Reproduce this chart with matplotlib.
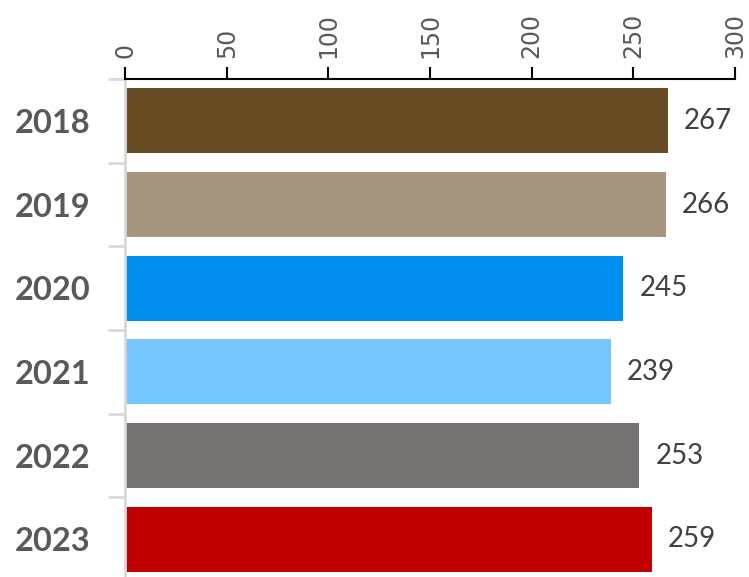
import numpy as np
import matplotlib.pyplot as plt

# data
years = ['2018', '2019', '2020', '2021', '2022', '2023']
values = [267, 266, 245, 239, 253, 259]
colors = ['#674c24', '#a5947e', '#0091f0', '#75c6ff', '#767171', '#c00000']
xticks = [0, 50, 100, 150, 200, 250, 300]

fig = plt.figure(figsize=(7.49, 5.77), dpi=100)
ax = fig.add_axes([125/749, -4/577, 610/749, 502/577])

y = np.arange(len(years))
ax.barh(y, values, height=0.78, color=colors)
ax.set_xlim(0, 300)
ax.set_ylim(len(years) - 0.5, -0.5)

# value labels
for yi, v in zip(y, values):
    ax.text(v + 8, yi, str(v), va='center', ha='left', fontsize=20,
            family='Lato', color='#404040')

# top axis
ax.xaxis.tick_top()
ax.set_xticks(xticks)
ax.set_xticklabels([str(t) for t in xticks], rotation=90, fontsize=17,
                   color='#595959')
ax.tick_params(axis='x', direction='out', length=9, width=1.5, color='black', pad=6)

# left axis: labels centred, ticks at boundaries
ax.set_yticks(y)
ax.set_yticklabels(years, fontsize=23.5, fontweight='bold', family='Lato',
                   color='#595959')
ax.tick_params(axis='y', which='major', length=0, pad=25)
ax.set_yticks(np.arange(-0.5, len(years), 1), minor=True)
ax.tick_params(axis='y', which='minor', length=12, width=2, color='#d9d9d9')

for s in ['right', 'bottom']:
    ax.spines[s].set_visible(False)
ax.spines['top'].set_linewidth(1.5)
ax.spines['top'].set_color('black')
ax.spines['left'].set_linewidth(2)
ax.spines['left'].set_color('#d9d9d9')

fig.savefig('out.png', dpi=100)
